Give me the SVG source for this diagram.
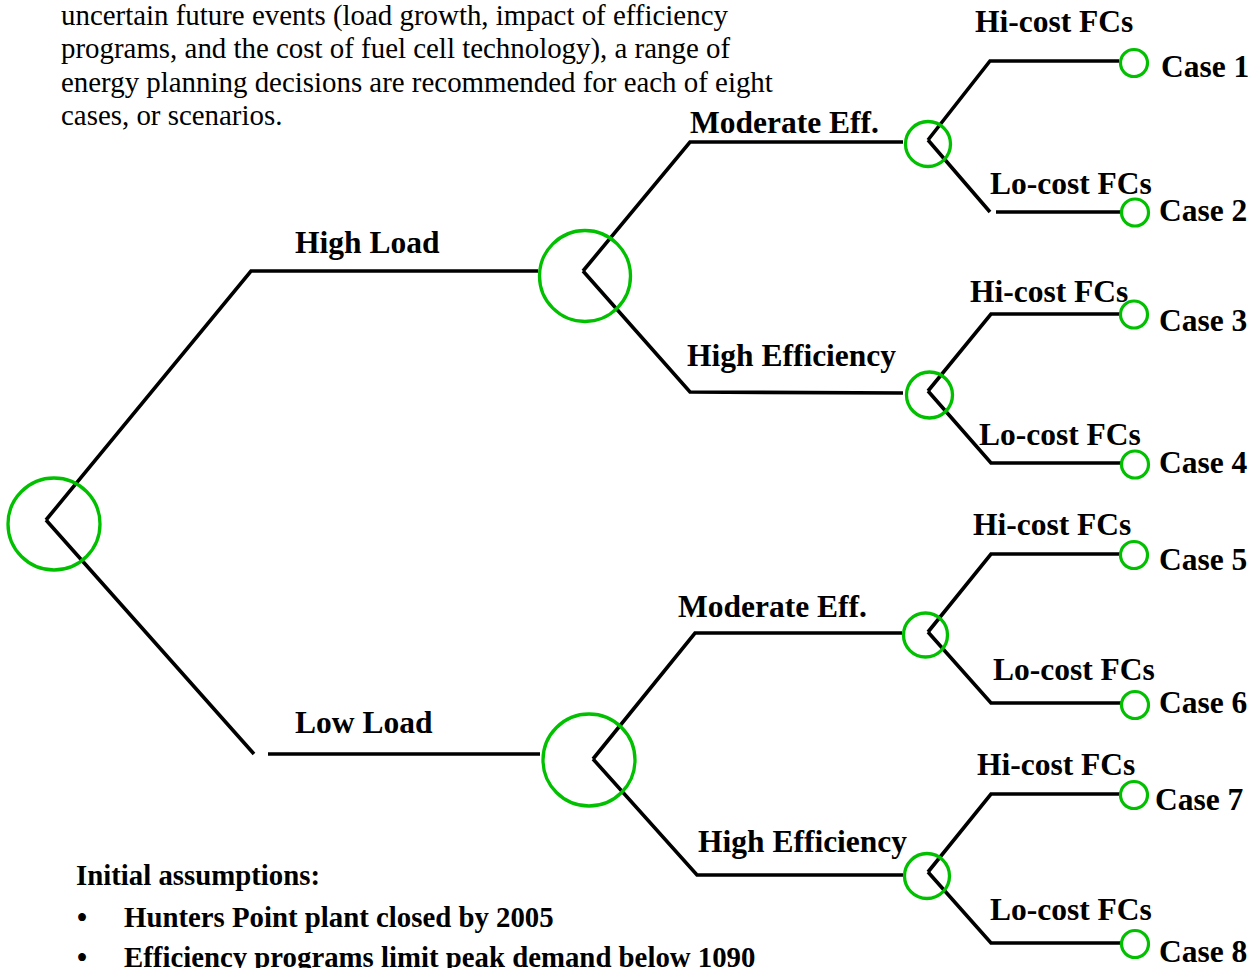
<svg xmlns="http://www.w3.org/2000/svg" width="1256" height="968" viewBox="0 0 1256 968">
<style>
.bg{fill:#ffffff}
.edge{fill:none;stroke:#000;stroke-width:3.6;stroke-linejoin:miter}
.chance{fill:none;stroke:#00c000;stroke-width:3.3}
.leaf{fill:none;stroke:#00c000;stroke-width:3.2}
.lbl{font-family:"Liberation Serif","Times New Roman",serif;font-weight:bold;font-size:31.5px;fill:#000}
.body{font-family:"Liberation Serif","Times New Roman",serif;font-size:28.9px;fill:#000}
.bold{font-family:"Liberation Serif","Times New Roman",serif;font-weight:bold;font-size:28.8px;fill:#000}
</style>
<rect class="bg" x="0" y="0" width="1256" height="968"/>
<g id="intro-text" class="body">
<text x="61" y="25">uncertain future events (load growth, impact of efficiency</text>
<text x="61" y="58">programs, and the cost of fuel cell technology), a range of</text>
<text x="61" y="92">energy planning decisions are recommended for each of eight</text>
<text x="61" y="125">cases, or scenarios.</text>
</g>
<g id="connectors">
<path class="edge" d="M46,520 L251,271 L538,271"/>
<path class="edge" d="M46,520 L254,754 M268,754 L540,754"/>
<path class="edge" d="M583,271 L690,142 L903,142"/>
<path class="edge" d="M583,271 L690,392 L903,393"/>
<path class="edge" d="M593,759 L695,633 L902,633"/>
<path class="edge" d="M593,759 L697,875 L903,875"/>
<path class="edge" d="M928,140 L990,61 L1119,61"/>
<path class="edge" d="M928,140 L990,212 M996,212 L1121,212"/>
<path class="edge" d="M928,391 L991,314 L1120,314"/>
<path class="edge" d="M928,391 L991,463 L1121,463"/>
<path class="edge" d="M928,632 L991,554 L1120,554"/>
<path class="edge" d="M928,632 L991,703 L1121,703"/>
<path class="edge" d="M928,872 L991,794 L1120,794"/>
<path class="edge" d="M928,872 L991,943 L1121,943"/>
</g>
<g id="node-root"><circle class="chance" cx="54" cy="524" r="46"/></g>
<g id="node-high-load"><circle class="chance" cx="585" cy="276" r="45.5"/></g>
<g id="node-low-load"><circle class="chance" cx="589" cy="760" r="46"/></g>
<g id="node-hl-moderate"><circle class="chance" cx="928" cy="144" r="22.5"/></g>
<g id="node-hl-high-eff"><circle class="chance" cx="929.5" cy="395" r="23"/></g>
<g id="node-ll-moderate"><circle class="chance" cx="925.5" cy="635" r="22"/></g>
<g id="node-ll-high-eff"><circle class="chance" cx="927" cy="876" r="22.5"/></g>
<g id="case-1"><circle class="leaf" cx="1134" cy="63" r="13.5"/><text class="lbl" x="1161" y="77">Case 1</text></g>
<g id="case-2"><circle class="leaf" cx="1135" cy="212.5" r="13.5"/><text class="lbl" x="1159" y="221">Case 2</text></g>
<g id="case-3"><circle class="leaf" cx="1134" cy="314.5" r="13.5"/><text class="lbl" x="1159" y="331">Case 3</text></g>
<g id="case-4"><circle class="leaf" cx="1135" cy="464.5" r="13.5"/><text class="lbl" x="1159" y="473">Case 4</text></g>
<g id="case-5"><circle class="leaf" cx="1134" cy="555" r="13.5"/><text class="lbl" x="1159" y="570">Case 5</text></g>
<g id="case-6"><circle class="leaf" cx="1135" cy="705" r="13.5"/><text class="lbl" x="1159" y="713">Case 6</text></g>
<g id="case-7"><circle class="leaf" cx="1134" cy="795" r="13.5"/><text class="lbl" x="1155" y="810">Case 7</text></g>
<g id="case-8"><circle class="leaf" cx="1135" cy="944" r="13.5"/><text class="lbl" x="1159" y="962">Case 8</text></g>
<g id="edge-labels" class="lbl">
<text x="295" y="253">High Load</text>
<text x="295" y="733">Low Load</text>
<text x="690" y="133">Moderate Eff.</text>
<text x="687" y="366">High Efficiency</text>
<text x="678" y="617">Moderate Eff.</text>
<text x="698" y="852">High Efficiency</text>
<text x="975" y="32">Hi-cost FCs</text>
<text x="990" y="194">Lo-cost FCs</text>
<text x="970" y="302">Hi-cost FCs</text>
<text x="979" y="445">Lo-cost FCs</text>
<text x="973" y="535">Hi-cost FCs</text>
<text x="993" y="680">Lo-cost FCs</text>
<text x="977" y="775">Hi-cost FCs</text>
<text x="990" y="920">Lo-cost FCs</text>
</g>
<g id="assumptions" class="bold">
<text x="76" y="885">Initial assumptions:</text>
<text x="77" y="927">•</text>
<text x="124" y="927">Hunters Point plant closed by 2005</text>
<text x="77" y="967">•</text>
<text x="124" y="967">Efficiency programs limit peak demand below 1090</text>
</g>
</svg>
